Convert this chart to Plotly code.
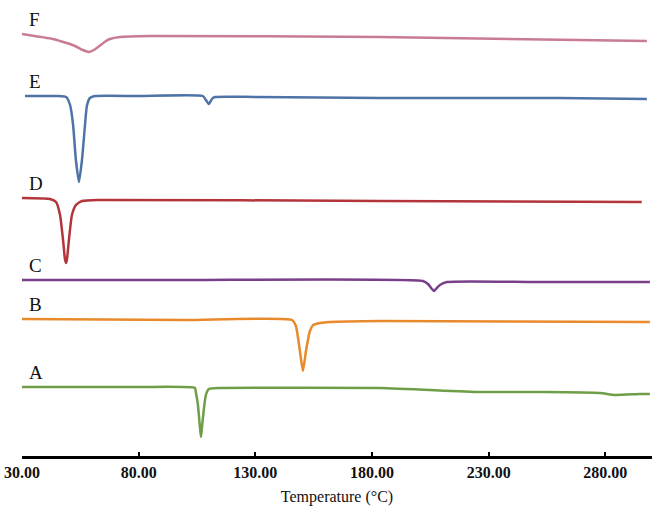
import plotly.graph_objects as go

# DSC thermograms (heat flow in arbitrary units, curves stacked)
temp_a = [30.0, 80.0, 104.1, 104.5, 105.4, 106.3, 106.7, 107.1, 108.0, 108.8, 110.1, 115.0, 183.4, 226.2, 254.1, 277.6, 284.1, 294.8, 299.1]
flow_a = [69, 69, 68, 64, 51, 28, 19, 28, 48, 61, 67, 68, 68, 64, 64, 63, 61, 62, 62]

temp_b = [30.0, 100.0, 145.7, 147.4, 149.1, 150.4, 151.7, 153.4, 154.8, 157.8, 162.1, 183.4, 299.1]
flow_b = [137, 136, 136, 130, 105, 85, 105, 125, 131, 133, 134, 135, 134]

temp_c = [30.0, 100.0, 201.8, 204.0, 205.7, 206.6, 207.4, 209.1, 212.1, 250.0, 299.1]
flow_c = [176, 176, 175, 172, 167, 165, 167, 171, 174, 174, 174]

temp_d = [30.0, 42.0, 44.6, 46.3, 47.6, 48.4, 48.9, 49.3, 50.1, 51.4, 53.1, 55.7, 63.4, 183.4, 295.6]
flow_d = [258, 257, 254, 241, 216, 197, 193, 197, 216, 241, 251, 255, 256, 255, 254]

temp_e = [31.3, 45.0, 48.9, 50.6, 51.9, 53.1, 54.4, 55.7, 57.0, 57.8, 59.1, 61.3, 80.0, 107.5, 108.8, 110.1, 111.4, 112.7, 130.0, 183.4, 260.0, 297.8]
flow_e = [360, 360, 359, 351, 331, 296, 274, 296, 331, 350, 358, 360, 360, 360, 356, 352, 357, 359, 359, 358, 358, 357]

temp_f = [30.0, 43.3, 46.3, 50.6, 53.6, 56.1, 58.7, 60.8, 62.6, 64.3, 66.0, 67.7, 72.0, 84.8, 183.4, 297.8]
flow_f = [422, 417, 415, 412, 409, 406, 404, 406, 409, 412, 415, 417, 419, 420, 419, 415]

names = ["A", "B", "C", "D", "E", "F"]
temps = [temp_a, temp_b, temp_c, temp_d, temp_e, temp_f]
flows = [flow_a, flow_b, flow_c, flow_d, flow_e, flow_f]
colors = ["#6f9e48", "#e88a2c", "#7a3f8b", "#b3353b", "#4e73a7", "#c97b91"]

tick_vals = [30, 80, 130, 180, 230, 280]
tick_text = ["30.00", "80.00", "130.00", "180.00", "230.00", "280.00"]

fig = go.Figure()
for name, t, f, c in zip(names, temps, flows, colors):
    fig.add_trace(go.Scatter(x=t, y=f, mode="lines", name=name,
                             line=dict(color=c, width=2.5, shape="spline", smoothing=0.5)))
    fig.add_annotation(x=32.0, y=f[0] + 15, text=name, showarrow=False, xanchor="left",
                       font=dict(family="Liberation Serif", size=19, color="#111111"))

fig.update_layout(
    width=659, height=516,
    margin=dict(l=22, r=7, t=10, b=60),
    paper_bgcolor="white", plot_bgcolor="white",
    showlegend=False,
    xaxis=dict(range=[30, 300], tickvals=tick_vals, ticktext=tick_text, automargin=False,
               showline=True, linecolor="black", linewidth=2.5,
               ticks="inside", ticklen=4, tickwidth=2, tickcolor="black",
               showgrid=False, zeroline=False,
               tickfont=dict(family="Liberation Serif", size=16, color="#111111", weight="bold"),
               title=dict(text="Temperature (°C)", standoff=11,
                          font=dict(family="Liberation Serif", size=16, color="#111111"))),
    yaxis=dict(range=[0, 446], visible=False, showgrid=False, zeroline=False, automargin=False),
)

# drop the browser's default body margin so the figure sits at the page corner
fig.write_html("out.html", config={"displayModeBar": False},
               post_script="document.body.style.margin='0px';")
